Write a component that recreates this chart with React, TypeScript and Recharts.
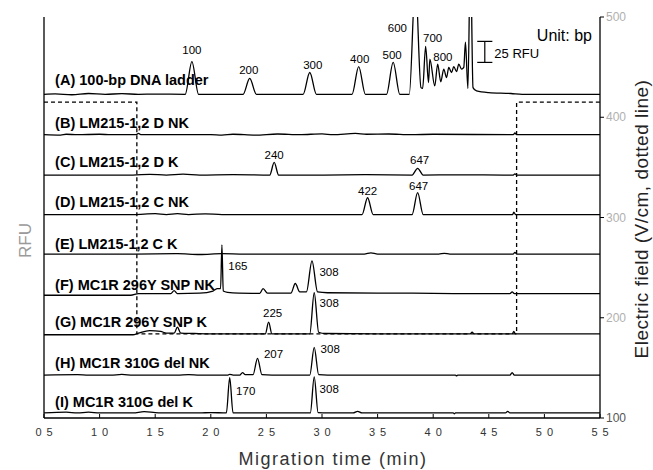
import React from 'react';
import {ComposedChart, Line, XAxis, YAxis, ReferenceDot, ReferenceLine} from 'recharts';

const FONT = 'Arial, "Liberation Sans", Helvetica, sans-serif';

const timeTicks = [5, 10, 15, 20, 25, 30, 35, 40, 45, 50, 55];
const fieldTicks = [100, 200, 300, 400, 500];

const traceNames = [
    '(A) 100-bp DNA ladder',
    '(B) LM215-1,2 D NK',
    '(C) LM215-1,2 D K',
    '(D) LM215-1,2 C NK',
    '(E) LM215-1,2 C K',
    '(F) MC1R 296Y SNP NK',
    '(G) MC1R 296Y SNP K',
    '(H) MC1R 310G del NK',
    '(I) MC1R 310G del K',
];

// stacking offset of each trace baseline, RFU
const baselines = [385, 337, 289, 242, 195, 148, 100, 51, 6];

// [time (min), RFU above baseline]
const traceA = [
    [5, 0], [6, 0.5], [7.5, -0.5], [9, 1], [10.5, 0], [12, 0.8], [13.5, 0], [15, 0.3],
    [17.7, 0], [18.3, 39], [18.9, 0], [22.9, 0], [23.5, 19], [24.1, 0],
    [28.3, 0], [28.9, 26], [29.5, 0], [32.7, 0], [33.3, 33], [33.9, 0],
    [35.8, 0], [36.4, 38], [37.0, 0], [37.85, 0], [38.4, 135], [38.9, 8],
    [39.05, 7], [39.32, 57], [39.58, 14], [39.7, 42], [40.14, 10], [40.4, 36],
    [40.68, 15], [40.95, 30], [41.2, 20], [41.4, 32], [41.65, 26], [41.85, 33],
    [42.1, 27], [42.3, 36], [42.55, 30], [42.75, 32], [42.9, 62], [43.12, 7],
    [43.35, 170], [43.58, 8], [43.9, 4], [45, 2], [47, 1], [48, 0], [55, 0],
];
const traceB = [
    [5, 0], [6.5, -0.5], [7, 0.5], [8, 0], [10, 0.5], [11, 0], [13.3, 0], [13.5, 1.5], [13.7, 0],
    [20, 0], [21, -0.5], [22, 0.5], [24, -0.5], [26, 0.8], [28, 0], [30, 1], [31, 0],
    [33, 1.5], [34, 0.5], [36, 0.8], [38, 0], [40, 0.5], [47.2, 0], [47.35, 2], [47.5, 0], [55, 0],
];
const traceC = [
    [5, 0], [13, 0], [14.5, 0.8], [16, 0], [17.5, 1], [19, 0], [22, 0.5], [25.3, 0],
    [25.7, 15], [26.1, 0], [30, 0], [34, 0.5], [38.1, 0], [38.6, 8], [39.1, 0],
    [42, 0.3], [47.2, 0], [47.35, 1.5], [47.5, 0], [55, 0],
];
const traceD = [
    [5, 0], [13, 0], [15, 1], [16, 0], [17, 1], [18, 0], [19.5, 0.8], [21, 0],
    [33.6, 0], [34.1, 20], [34.6, 0], [38.1, 0], [38.6, 26], [39.1, 0], [41, 0],
    [47.15, 0], [47.25, 3], [47.4, 0], [55, 0],
];
const traceE = [
    [5, 0], [13, 0], [17, 0.5], [19, -0.5], [21, 0.5], [23, 0], [33.8, 0], [34.4, 1.5],
    [35, 0], [40.5, 0], [41, 0.8], [41.5, 0], [47.2, 0], [47.35, 2], [47.5, 0], [55, 0],
];
const traceF = [
    [5, -2], [12.8, -2], [13.5, 0], [16.4, 0], [16.7, 3.5], [17, 0], [19, 0.5], [20.2, 3],
    [20.6, 6], [20.88, 6], [21.0, 58], [21.12, 3], [21.5, 1.5], [22.5, 0.5], [24.4, 0.3],
    [24.7, 6], [25.1, 0.5], [27.2, 0.5], [27.6, 12], [28, 2], [28.6, 2], [29.1, 39],
    [29.6, 2], [30.5, 1], [35, 0.5], [38, 0.5], [42, 0], [46.9, 0], [47.1, 2], [47.3, 0], [55, 0],
];
const traceG = [
    [5, -1], [13, -1], [13.5, 1], [14.5, 4], [15.5, 3], [16, 1], [16.7, 1], [17.0, 8],
    [17.3, 1], [18.5, 0.5], [20, 0], [24.9, 0], [25.2, 14], [25.5, 0], [28.9, 0],
    [29.3, 49], [29.7, 2], [30.3, 0.5], [35, 0], [43.3, 0], [43.5, 2], [43.7, 0],
    [47.1, 0], [47.25, 3], [47.4, 0], [55, 0],
];
const traceH = [
    [5, 0], [8, 0.5], [9, 0], [11, 0], [12, 0.8], [13, 0], [17, 0], [18, 0.5], [19, 0],
    [21.5, 0], [21.7, 1], [22, 0], [22.6, 0], [22.85, 3], [23.1, 0.5], [23.8, 0.5],
    [24.2, 20], [24.6, 0.5], [25.5, 0], [28.9, 0], [29.3, 33], [29.7, 0.5], [30.5, 0],
    [42, 0], [42.1, -1], [42.2, 0], [46.9, 0], [47.1, 3], [47.3, 0], [55, 0],
];
const traceI = [
    [5, 0], [7, 1], [8, 0], [9, 1], [10, 0], [13, 0], [14, 1.5], [15, 0.5], [16, 0],
    [19, 0], [20, 0.5], [21.4, 0], [21.7, 42], [22.0, 0], [26, 0], [28.95, 0],
    [29.3, 43], [29.65, 0.5], [30.5, 0], [32.8, 0], [33.2, 2], [33.6, 0], [41.8, 0],
    [41.9, -1], [42, 0], [46.5, 0], [46.7, 2], [46.9, 0], [55, 0],
];
const traces = [traceA, traceB, traceC, traceD, traceE, traceF, traceG, traceH, traceI];

// electric field program, V/cm (step changes)
const fieldProfile = [[5, 415], [13.35, 184], [47.5, 415], [55, 415]];

// fragment sizes (bp) at peaks
const peakLabels = [
    {trace: 0, t: 18.3, text: '100', dx: 0, dy: -44},
    {trace: 0, t: 23.5, text: '200', dx: -1, dy: -24},
    {trace: 0, t: 28.9, text: '300', dx: 3, dy: -29},
    {trace: 0, t: 33.3, text: '400', dx: 1, dy: -35},
    {trace: 0, t: 36.4, text: '500', dx: -1, dy: -39},
    {trace: 0, t: 38.4, text: '600', dx: -18, dy: -66},
    {trace: 0, t: 39.32, text: '700', dx: 7, dy: -56},
    {trace: 0, t: 39.7, text: '800', dx: 13, dy: -37},
    {trace: 2, t: 25.7, text: '240', dx: 0, dy: -20},
    {trace: 2, t: 38.6, text: '647', dx: 2, dy: -15},
    {trace: 3, t: 34.1, text: '422', dx: 0, dy: -24},
    {trace: 3, t: 38.6, text: '647', dx: 1, dy: -29},
    {trace: 5, t: 21.0, text: '165', dx: 16, dy: -28},
    {trace: 5, t: 29.1, text: '308', dx: 17, dy: -22},
    {trace: 6, t: 25.2, text: '225', dx: 4, dy: -21},
    {trace: 6, t: 29.3, text: '308', dx: 15, dy: -31},
    {trace: 7, t: 24.2, text: '207', dx: 16, dy: -21},
    {trace: 7, t: 29.3, text: '308', dx: 16, dy: -26},
    {trace: 8, t: 21.7, text: '170', dx: 16, dy: -22},
    {trace: 8, t: 29.3, text: '308', dx: 15, dy: -24},
];

// how far each trace name sits above its baseline, px
const nameLift = [14, 12, 13, 13, 10, 9, 12, 12, 11];

const scaleBar = {t: 44.64, from: 423, size: 25, half: 0.68};

const toRows = (pts: number[][], base: number) => pts.map(([t, v]) => ({t, v: v + base}));
const fieldRows = fieldProfile.map(([t, f]) => ({t, f}));

const XTick = ({x, y, payload}: any) => (
    <text x={x + 2.5} y={y + 8} textAnchor='middle' fontSize={11} letterSpacing={5}
          fill='#333' fontFamily={FONT}>
        {String(payload.value).padStart(2, '0')}
    </text>
);

const FieldTick = ({x, y, payload}: any) => (
    <text x={x} y={y} dominantBaseline='central' fontSize={12} fontFamily={FONT}
          fill={payload.value === 100 ? '#555' : '#b0b0b0'}>
        {payload.value}
    </text>
);

const XTitle = (props: any) => {
    const vb = props.viewBox || {x: 44, y: 418, width: 556, height: 42};
    return (
        <text x={vb.x + vb.width / 2 + 11} y={vb.y + 47} textAnchor='middle' fontSize={18}
              letterSpacing={1.5} fill='#333' fontFamily={FONT}>
            Migration time (min)
        </text>
    );
};

const RfuTitle = (props: any) => {
    const vb = props.viewBox || {x: 0, y: 17, width: 44, height: 401};
    const cx = vb.x + 25;
    const cy = vb.y + vb.height / 2 + 23;
    return (
        <text x={cx} y={cy} transform={`rotate(-90 ${cx} ${cy})`} textAnchor='middle'
              dominantBaseline='central' fontSize={17} fill='#9a9a9a' fontFamily={FONT}>
            RFU
        </text>
    );
};

const FieldTitle = (props: any) => {
    const vb = props.viewBox || {x: 600, y: 17, width: 40, height: 401};
    const cx = vb.x + 41;
    const cy = vb.y + vb.height / 2 + 1.5;
    return (
        <text x={cx} y={cy} transform={`rotate(-90 ${cx} ${cy})`} textAnchor='middle'
              dominantBaseline='central' fontSize={19} letterSpacing={0.5} fill='#222'
              fontFamily={FONT}>
            Electric field (V/cm, dotted line)
        </text>
    );
};

const frame = {stroke: '#000', strokeWidth: 1.3};

export default function App() {
    return (
        <div style={{position: 'absolute', left: 0, top: 0, background: '#fff'}}>
            <ComposedChart width={653} height={470} margin={{top: 17, right: 13, bottom: 10, left: 0}}>
                <XAxis xAxisId='x' dataKey='t' type='number' domain={[5, 55]} ticks={timeTicks}
                       interval={0} allowDataOverflow height={42} axisLine={frame}
                       tickLine={{stroke: '#000'}} tickSize={-4} tickMargin={14}
                       tick={<XTick />} label={XTitle} />
                <XAxis xAxisId='top' orientation='top' type='number' domain={[5, 55]} height={0}
                       tick={false} tickLine={false} axisLine={frame} />
                <YAxis yAxisId='rfu' type='number' domain={[0, 477]} allowDataOverflow width={44}
                       tick={false} tickLine={false} axisLine={frame} label={RfuTitle} />
                <YAxis yAxisId='field' orientation='right' type='number' domain={[100, 500]}
                       ticks={fieldTicks} interval={0} allowDataOverflow width={40}
                       axisLine={frame} tickLine={{stroke: '#000'}} tickSize={4} tickMargin={2}
                       tick={<FieldTick />} label={FieldTitle} />

                {traces.map((pts, i) => (
                    <Line key={traceNames[i]} xAxisId='x' yAxisId='rfu' data={toRows(pts, baselines[i])}
                          dataKey='v' type='monotone' stroke='#000' strokeWidth={1.3} dot={false}
                          activeDot={false} isAnimationActive={false} />
                ))}
                <Line xAxisId='x' yAxisId='field' data={fieldRows} dataKey='f' type='stepAfter'
                      stroke='#000' strokeWidth={1.3} strokeDasharray='4 3' dot={false}
                      activeDot={false} isAnimationActive={false} />

                {traceNames.map((name, i) => (
                    <ReferenceDot key={name} xAxisId='x' yAxisId='rfu' x={6} y={baselines[i]} r={0}
                                  shape={(p: any) => (
                                      <text x={p.cx} y={p.cy - nameLift[i]} dominantBaseline='central'
                                            fontSize={14.5} fontWeight='bold' fill='#000'
                                            fontFamily={FONT}>
                                          {name}
                                      </text>
                                  )} />
                ))}
                {peakLabels.map((pk, i) => (
                    <ReferenceDot key={`pk${i}`} xAxisId='x' yAxisId='rfu' x={pk.t}
                                  y={baselines[pk.trace]} r={0}
                                  shape={(p: any) => (
                                      <text x={p.cx + pk.dx} y={p.cy + pk.dy} textAnchor='middle'
                                            dominantBaseline='central' fontSize={11.5} fill='#000'
                                            fontFamily={FONT}>
                                          {pk.text}
                                      </text>
                                  )} />
                ))}

                {/* 25 RFU scale bar */}
                <ReferenceLine xAxisId='x' yAxisId='rfu' stroke='#000' strokeWidth={1.2}
                               segment={[{x: scaleBar.t, y: scaleBar.from},
                                   {x: scaleBar.t, y: scaleBar.from + scaleBar.size}]} />
                <ReferenceLine xAxisId='x' yAxisId='rfu' stroke='#000' strokeWidth={1.2}
                               segment={[{x: scaleBar.t - scaleBar.half, y: scaleBar.from},
                                   {x: scaleBar.t + scaleBar.half, y: scaleBar.from}]} />
                <ReferenceLine xAxisId='x' yAxisId='rfu' stroke='#000' strokeWidth={1.2}
                               segment={[{x: scaleBar.t - scaleBar.half, y: scaleBar.from + scaleBar.size},
                                   {x: scaleBar.t + scaleBar.half, y: scaleBar.from + scaleBar.size}]} />
                <ReferenceDot xAxisId='x' yAxisId='rfu' x={scaleBar.t + scaleBar.half}
                              y={scaleBar.from + scaleBar.size / 2} r={0}
                              shape={(p: any) => (
                                  <text x={p.cx + 2} y={p.cy + 1.5} dominantBaseline='central'
                                        fontSize={13} fill='#000' fontFamily={FONT}>
                                      {`${scaleBar.size} RFU`}
                                  </text>
                              )} />
                <ReferenceDot xAxisId='x' yAxisId='rfu' x={55} y={477} r={0}
                              shape={(p: any) => (
                                  <text x={p.cx - 8} y={p.cy + 18} textAnchor='end'
                                        dominantBaseline='central' fontSize={16} fill='#000'
                                        fontFamily={FONT}>
                                      Unit: bp
                                  </text>
                              )} />
            </ComposedChart>
        </div>
    );
}
